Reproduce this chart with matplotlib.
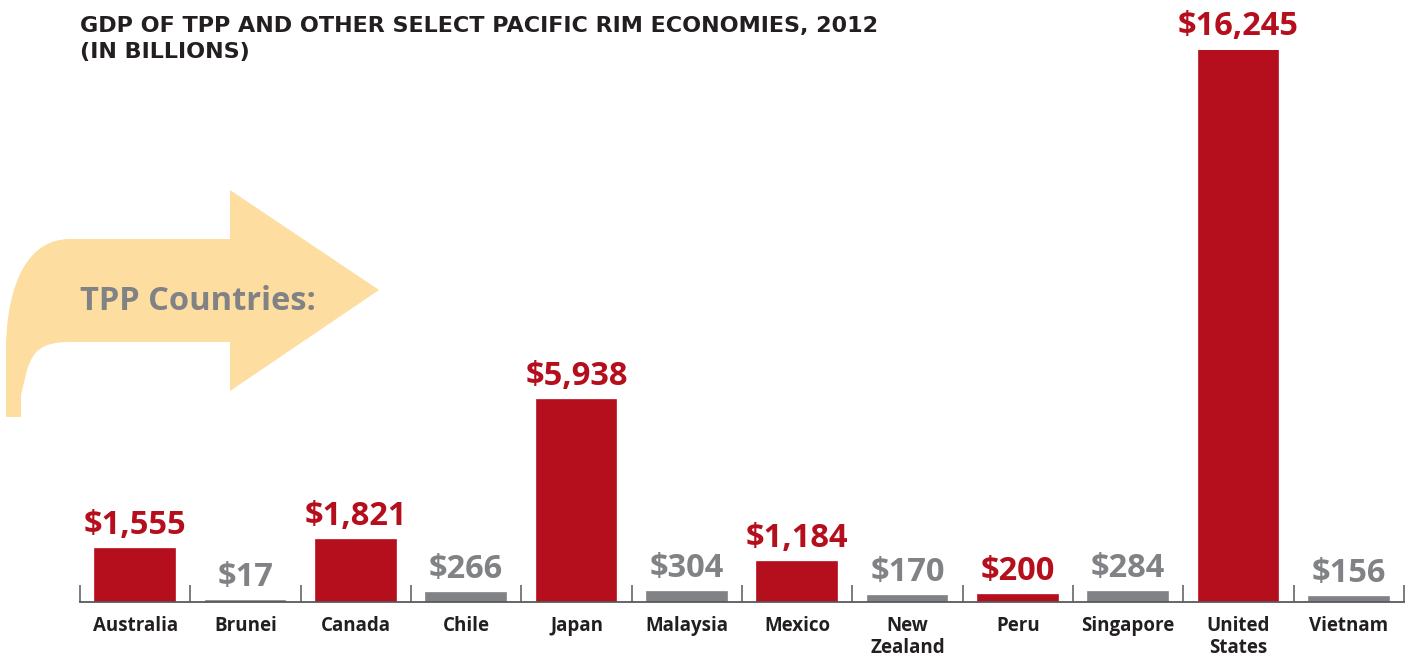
import matplotlib
matplotlib.use("Agg")
import matplotlib.pyplot as plt
from matplotlib.path import Path
from matplotlib.patches import PathPatch

countries = ["Australia", "Brunei", "Canada", "Chile", "Japan", "Malaysia",
             "Mexico", "New\nZealand", "Peru", "Singapore", "United\nStates", "Vietnam"]
gdp = [1555, 17, 1821, 266, 5938, 304, 1184, 170, 200, 284, 16245, 156]
is_tpp = [True, False, True, False, True, False, True, False, True, False, True, False]
value_labels = ["$1,555", "$17", "$1,821", "$266", "$5,938", "$304", "$1,184",
                "$170", "$200", "$284", "$16,245", "$156"]
title = "GDP OF TPP AND OTHER SELECT PACIFIC RIM ECONOMIES, 2012\n(IN BILLIONS)"

RED = "#B50E1C"
GRAY = "#808285"
DARK = "#231F20"
ARROW = "#FEDDA0"
FONT = ["Open Sans", "DejaVu Sans"]

W, H = 1408, 656
fig = plt.figure(figsize=(W / 100, H / 100), dpi=100)

# Background overlay for the arrow decoration
bg = fig.add_axes([0, 0, 1, 1])
bg.set_xlim(0, W)
bg.set_ylim(H, 0)
bg.axis("off")
verts = [
    (6, 417), (6, 350), (6, 300), (20, 239), (70, 239),
    (230, 239), (230, 190), (379, 290), (230, 391), (230, 342),
    (70, 342), (40, 342), (33, 352), (27, 370), (21, 395), (21, 417), (6, 417)
]
codes = [Path.MOVETO, Path.LINETO, Path.CURVE4, Path.CURVE4, Path.CURVE4,
         Path.LINETO, Path.LINETO, Path.LINETO, Path.LINETO, Path.LINETO,
         Path.LINETO, Path.CURVE4, Path.CURVE4, Path.CURVE4, Path.LINETO,
         Path.LINETO, Path.CLOSEPOLY]
bg.add_patch(PathPatch(Path(verts, codes), facecolor=ARROW, edgecolor="none"))
bg.text(80, 310, "TPP Countries:", color=GRAY, fontsize=23.5, fontweight="bold",
        family=FONT, va="baseline", ha="left")
bg.text(80, 16, title, color=DARK, fontsize=16, fontweight="bold",
        family=["DejaVu Sans"], va="top", ha="left", linespacing=1.35)

# Main chart axes
left, right = 80 / W, 1404 / W
bottom, top = 1 - 602 / H, 1 - 50 / H
ax = fig.add_axes([left, bottom, right - left, top - bottom])
ax.patch.set_alpha(0)
n = len(countries)
xs = list(range(n))
colors = [RED if t else GRAY for t in is_tpp]
ax.bar(xs, gdp, width=0.72, color=colors, edgecolor=colors, linewidth=1.2)
ax.set_xlim(-0.5, n - 0.5)
ax.set_ylim(0, max(gdp))

for x, v, lab, c in zip(xs, gdp, value_labels, colors):
    ax.annotate(lab, (x, v), xytext=(0, 5), textcoords="offset points",
                ha="center", va="bottom", color=c, fontsize=23.5,
                fontweight="bold", family=FONT, annotation_clip=False)

for sp in ["top", "right", "left"]:
    ax.spines[sp].set_visible(False)
ax.spines["bottom"].set_color("#58595B")
ax.spines["bottom"].set_linewidth(1.3)
ax.set_yticks([])

# boundary ticks
ax.set_xticks([i - 0.5 for i in range(n + 1)], minor=True)
ax.tick_params(axis="x", which="minor", direction="in", length=12,
               width=1.1, color="#58595B")
ax.set_xticks(xs)
ax.set_xticklabels(countries, fontsize=13.5, fontweight="bold", color=DARK,
                   family=FONT, linespacing=1.15)
ax.tick_params(axis="x", which="major", length=0, pad=10)

fig.savefig("out.png", dpi=100)
